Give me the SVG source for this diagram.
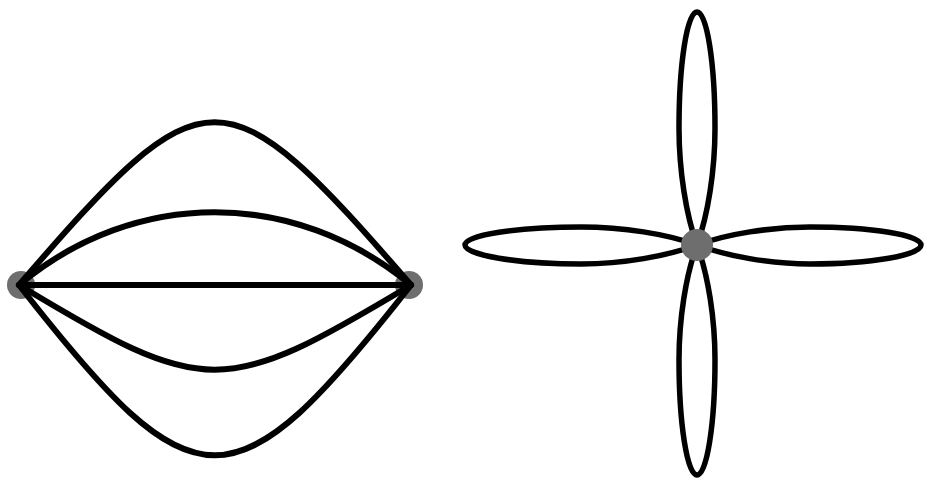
<svg xmlns="http://www.w3.org/2000/svg" width="925" height="480" viewBox="0 0 925 480">
<style>
.e{fill:none;stroke:#000;stroke-width:6;stroke-linecap:round}
.p{fill:none;stroke:#000;stroke-width:5.5}
.n{fill:#6e6e6e}
</style>
<rect width="925" height="480" fill="#fff"/>
<g id="nodeA"><circle class="n" cx="21" cy="285" r="14"/></g>
<g id="nodeB"><circle class="n" cx="409" cy="285" r="14"/></g>
<g id="edges">
<path class="e" d="M19,285 C206,68 223,68 411,285"/>
<path class="e" d="M19,285 C135,188 294,188 411,285"/>
<path class="e" d="M19,285 L411,285"/>
<path class="e" d="M19,285 C206,398 223,398 411,285"/>
<path class="e" d="M19,285 C196,512 233,512 411,285"/>
<path class="p" d="M697,245 C686,215 679,170 679,128 C679,64 687,12 697,12 C707,12 715,64 715,128 C715,170 708,215 697,245"/>
<path class="p" d="M697,245 C686,275 679,318 679,360 C679,423 687,475 697,475 C707,475 715,423 715,360 C715,318 708,275 697,245"/>
<path class="p" d="M697,245 C667,234 623,227 581,227 C517,227 465,235 465,245 C465,255 517,264 581,264 C623,264 667,256 697,245"/>
<path class="p" d="M697,245 C727,234 770,227 810,227 C872,227 921,235 921,245 C921,255 872,264 810,264 C770,264 727,256 697,245"/>
</g>
<g id="nodeC"><circle class="n" cx="697" cy="245" r="16"/></g>
</svg>
